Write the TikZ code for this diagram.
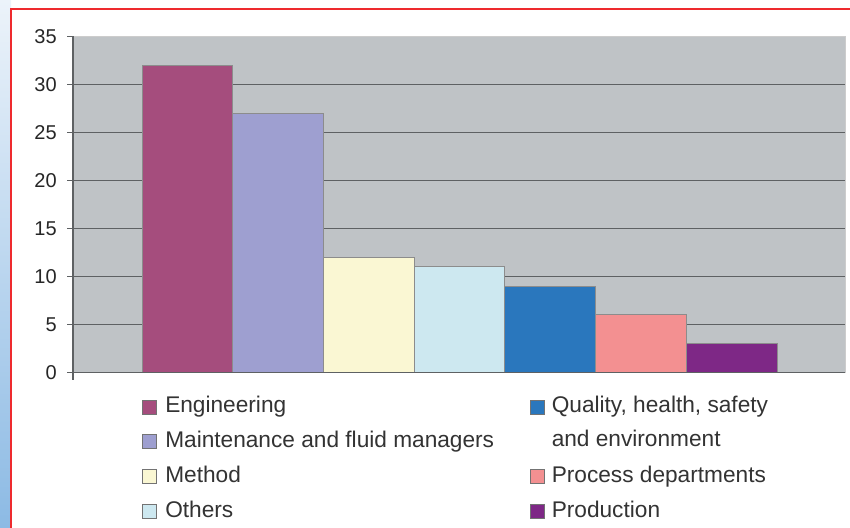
\documentclass[tikz,border=0pt]{standalone}
\usepackage{fontspec}
\setmainfont{Liberation Sans}
\usetikzlibrary{positioning}

\definecolor{plotbg}{HTML}{BFC3C6}
\definecolor{gridgray}{HTML}{5E6163}
\definecolor{frame}{HTML}{EE2A2E}
\definecolor{engcol}{HTML}{A54D7D}
\definecolor{maincol}{HTML}{9E9FD0}
\definecolor{methcol}{HTML}{FAF7D3}
\definecolor{othcol}{HTML}{CDE8F0}
\definecolor{qhsecol}{HTML}{2A77BD}
\definecolor{proccol}{HTML}{F39091}
\definecolor{prodcol}{HTML}{7E2886}
\definecolor{labtext}{HTML}{333333}

\begin{document}
\begin{tikzpicture}[x=0.75pt,y=-0.75pt,
                    bar/.style={draw=black!45, line width=0.6pt},
                    key/.style={draw=black!55, line width=0.4pt, minimum size=10.5pt, inner sep=0pt},
                    lab/.style={anchor=base west, inner sep=0pt, text=labtext, font=\fontsize{17}{19}\selectfont},
                    ticklab/.style={anchor=east, inner sep=0pt, text=black!85, font=\fontsize{15}{16}\selectfont}]

  \useasboundingbox (0,0) rectangle (850,528);

  % page edge and frame
  \shade[top color={rgb,255:red,236;green,243;blue,250}, bottom color={rgb,255:red,140;green,186;blue,228}] (0,0) rectangle (11,528);
  \fill[white] (11,9) rectangle (850,528);
  \draw[frame, line width=1.5pt] (11,528) -- (11,9) -- (850,9);

  % plot area, values upwards
  \begin{scope}[shift={(73,372.5)}, y=7.2075pt]
    \fill[plotbg] (0,0) rectangle (772,35);
    \draw[black!20, line width=0.6pt] (0,35) -- (772,35) -- (772,0);
    \foreach \v in {5,10,...,30}
      \draw[gridgray, line width=0.9pt] (-6,\v) -- (772,\v);
    \foreach \v in {0,5,...,35}
      \node[ticklab] at (-16,\v) {\v};
    \draw[gridgray, line width=0.9pt] (-6,35) -- (0,35);

    \draw[bar, fill=engcol]  (69,0)    rectangle (159.7,32);
    \draw[bar, fill=maincol] (159.7,0) rectangle (250.4,27);
    \draw[bar, fill=methcol] (250.4,0) rectangle (341.1,12);
    \draw[bar, fill=othcol]  (341.1,0) rectangle (431.8,11);
    \draw[bar, fill=qhsecol] (431.8,0) rectangle (522.5,9);
    \draw[bar, fill=proccol] (522.5,0) rectangle (613.2,6);
    \draw[bar, fill=prodcol] (613.2,0) rectangle (703.9,3);

    \draw[gridgray, line width=0.9pt] (-6,0) -- (772,0);
    \draw[gridgray, line width=0.9pt] (0,35) -- (0,-0.8);
  \end{scope}

  % legend
  \node[key, fill=engcol]  at (149.7,407) (kEng)  {};
  \node[key, fill=maincol] at (149.7,441.5) (kMain) {};
  \node[key, fill=methcol] at (149.7,476.5) (kMeth) {};
  \node[key, fill=othcol]  at (149.7,511.5) (kOth)  {};
  \node[key, fill=qhsecol] at (537.5,407) (kQhse) {};
  \node[key, fill=proccol] at (537.5,476.5) (kProc) {};
  \node[key, fill=prodcol] at (537.5,511.5) (kProd) {};

  \node[lab] at (165,412.5) (lEng)  {Engineering};
  \node[lab] at (165,447)   (lMain) {Maintenance and fluid managers};
  \node[lab] at (165,482)   (lMeth) {Method};
  \node[lab] at (165,517)   (lOth)  {Others};
  \node[lab] at (551.5,412.5) (lQhse) {Quality, health, safety};
  \node[lab] at (551.5,446)   (lQhsb) {and environment};
  \node[lab] at (551.5,482)   (lProc) {Process departments};
  \node[lab] at (551.5,517)   (lProd) {Production};

\end{tikzpicture}
\end{document}
